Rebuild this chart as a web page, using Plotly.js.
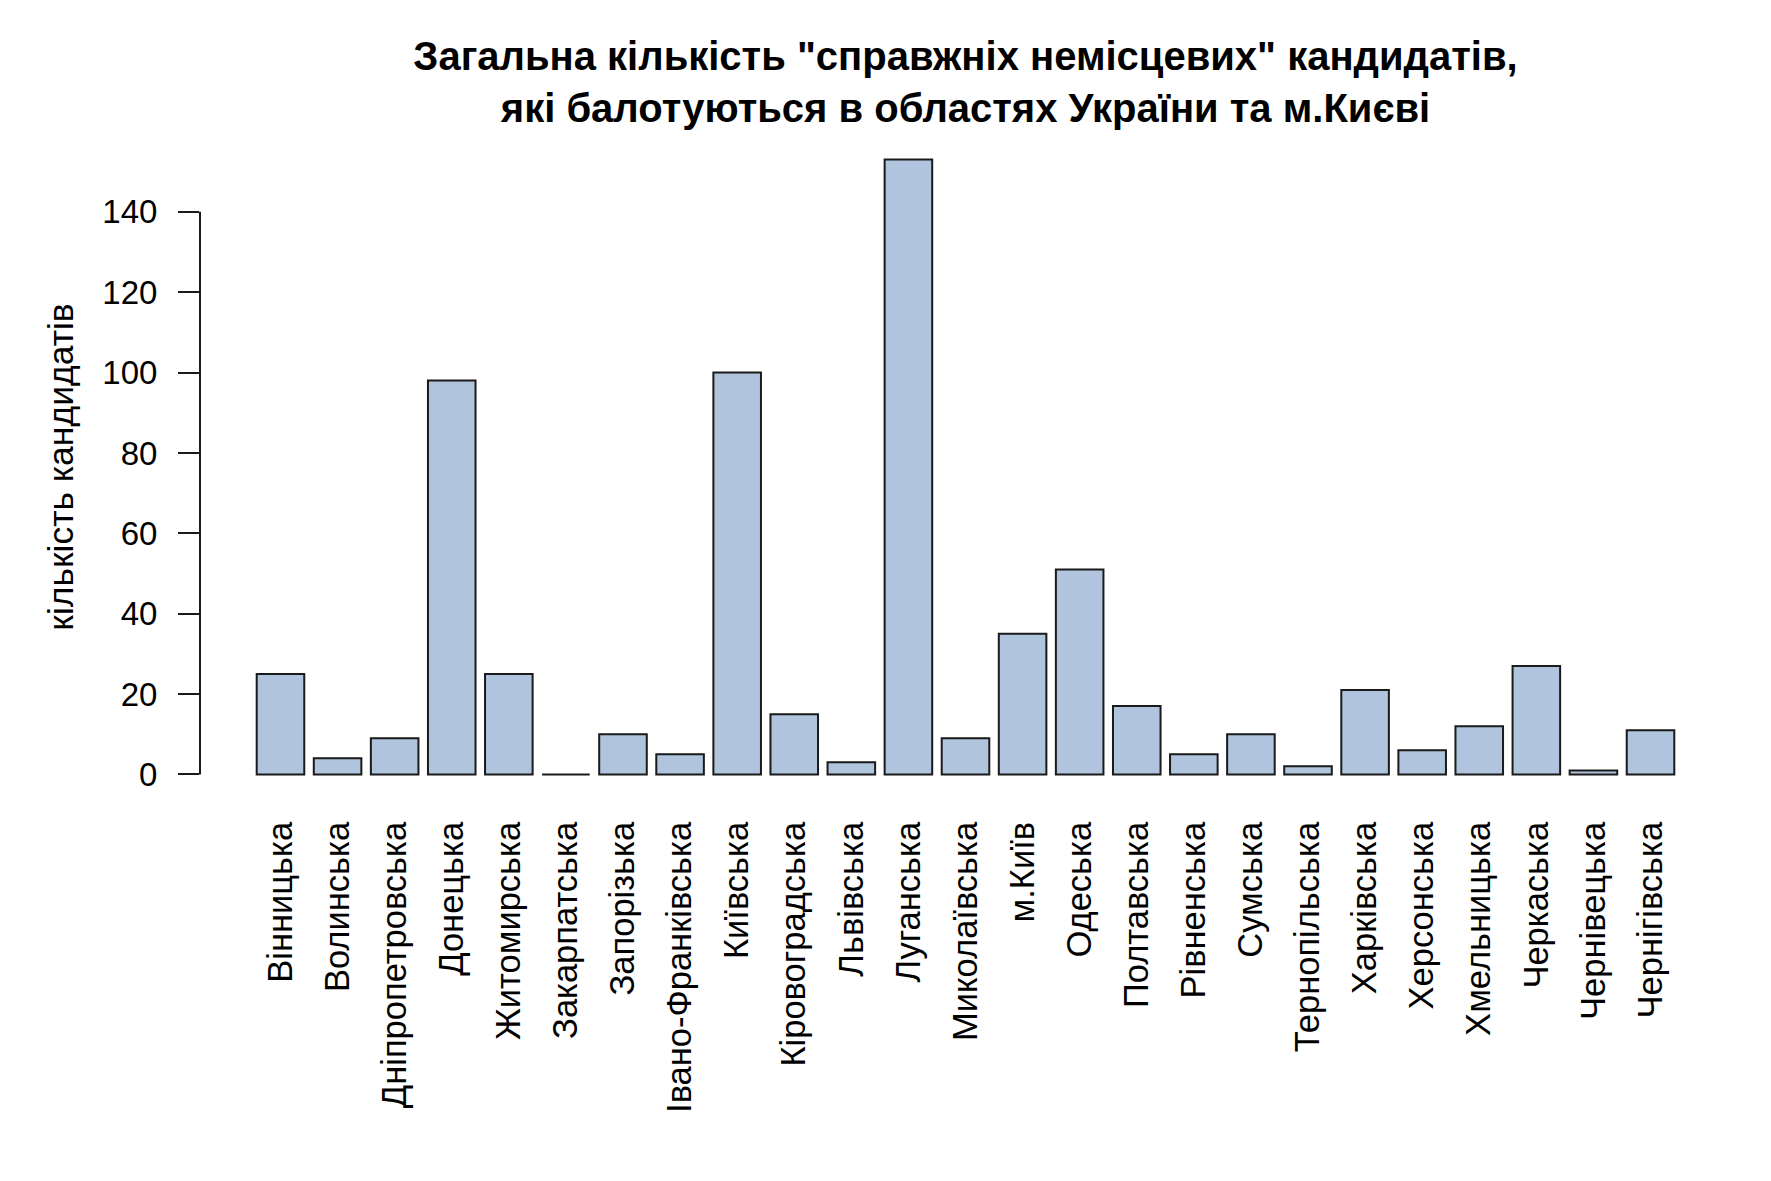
<!DOCTYPE html>
<html>
<head>
<meta charset="utf-8">
<script src="https://cdn.plot.ly/plotly-3.0.1.min.js"></script>
<style>html,body{margin:0;padding:0;background:#fff;}#chart{width:1771px;height:1181px;}</style>
</head>
<body>
<div id="chart"></div>
<script>
const regions = ["Вінницька","Волинська","Дніпропетровська","Донецька","Житомирська","Закарпатська","Запорізька","Івано-Франківська","Київська","Кіровоградська","Львівська","Луганська","Миколаївська","м.Київ","Одеська","Полтавська","Рівненська","Сумська","Тернопільська","Харківська","Херсонська","Хмельницька","Черкаська","Чернівецька","Чернігівська"];
const candidates = [25,4,9,98,25,0,10,5,100,15,3,153,9,35,51,17,5,10,2,21,6,12,27,1,11];
const yTicks = [0,20,40,60,80,100,120,140];
const chartTitle = 'Загальна кількість "справжніх немісцевих" кандидатів,<br>які балотуються в областях України та м.Києві';
const yTitle = 'кількість кандидатів';

const font = '"Liberation Sans", Arial, Helvetica, sans-serif';

const trace = {
  type: 'bar',
  x: regions,
  y: candidates,
  marker: {color: '#B0C4DE', line: {color: '#1a1a1a', width: 2}},
  hoverinfo: 'x+y'
};

const ymax = Math.max(...candidates);
const yext = ymax * 0.04;
const n = regions.length;
// R barplot geometry: bar width 1, space 0.2, axis extension 4% of data span
const halfBar = 0.5 / 1.2;
const ext = (n * 1.2 - 0.2) * 0.04 / 1.2;

const layout = {
  width: 1771,
  height: 1181,
  paper_bgcolor: '#ffffff',
  plot_bgcolor: '#ffffff',
  margin: {l: 200, r: 40, t: 135, b: 382, pad: 0},
  showlegend: false,
  bargap: 1/6,
  font: {family: font, color: '#000000', size: 33},
  title: {
    text: chartTitle,
    font: {family: font, size: 40, color: '#000000', weight: 'bold'},
    x: 0.5, xref: 'paper', xanchor: 'center',
    y: 1 - 70/1181, yref: 'container', yanchor: 'top'
  },
  xaxis: {
    type: 'category',
    range: [-halfBar - ext, n - 1 + halfBar + ext],
    tickangle: -90,
    ticks: '',
    showline: false,
    showgrid: false,
    zeroline: false,
    tickfont: {family: font, size: 34.5, color: '#000000'},
    ticklabelstandoff: 15,
    fixedrange: true
  },
  yaxis: {
    range: [-yext, ymax + yext],
    tickvals: yTicks,
    ticktext: yTicks.map(String),
    ticks: 'outside',
    ticklen: 21,
    tickwidth: 2,
    tickcolor: '#1a1a1a',
    showline: false,
    showgrid: false,
    zeroline: false,
    tickfont: {family: font, size: 33, color: '#000000'},
    ticklabelstandoff: 14,
    title: {text: yTitle, font: {family: font, size: 35.5, color: '#000000'}, standoff: 17},
    automargin: false,
    fixedrange: true
  },
  shapes: [{
    type: 'line', xref: 'paper', yref: 'y',
    x0: 0, x1: 0, y0: yTicks[0], y1: yTicks[yTicks.length - 1],
    line: {color: '#1a1a1a', width: 2}
  }]
};

Plotly.newPlot('chart', [trace], layout, {displayModeBar: false, staticPlot: true});
</script>
</body>
</html>
